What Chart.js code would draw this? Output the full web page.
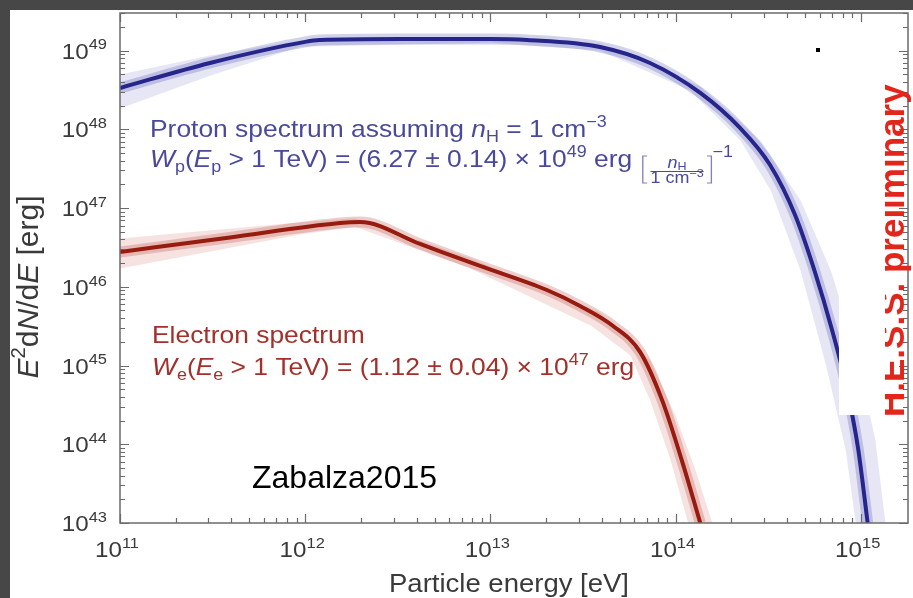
<!doctype html>
<html>

<head>
	<title>Particle spectra</title>
	<script src="https://cdn.jsdelivr.net/npm/chart.js@4"></script>
	<style>
		body { margin: 0; background: #474747; }
		canvas { display: block; }
	</style>
</head>

<body>
	<canvas id="canvas" width="913" height="598"></canvas>
	<script>
		// best-fit proton spectrum (energy in eV, E^2 dN/dE in erg)
		const protonE = [1e11, 3.06e11, 1e12, 1.2e12, 3.25e12, 1e13, 1.58e13, 3.91e13, 7.28e13, 1.36e14, 2.23e14, 3.24e14, 4.42e14, 5.66e14, 7.0e14, 8.33e14, 9.67e14, 1.09e15];
		const protonFlux = [3.35e48, 6.96e48, 1.29e49, 1.36e49, 1.4e49, 1.4e49, 1.36e49, 1.11e49, 6.96e48, 2.9e48, 1.04e48, 3.52e47, 8.17e46, 1.54e46, 2.83e45, 5.66e44, 8.97e43, 1e43];
		// spread of the proton posterior samples
		const protonUpperE = [1e11, 3.06e11, 9.4e11, 1e13, 3.9e13, 1.36e14, 2.88e14, 4.74e14, 6.9e14, 9.4e14, 1.2e15, 1.36e15];
		const protonUpper = [4.95e48, 8.65e48, 1.34e49, 1.46e49, 1.23e49, 3.5e48, 7.2e47, 1.25e47, 1.6e46, 1.56e45, 1.12e44, 1e43];
		const protonLowerE = [1e11, 3.06e11, 9.4e11, 1e13, 3.9e13, 1.2e14, 2.24e14, 3.27e14, 4.74e14, 6.5e14, 8.3e14, 9.4e14];
		const protonLower = [1.84e48, 4.8e48, 1.12e49, 1.26e49, 1.0e49, 3.1e48, 7.2e47, 1.67e47, 1.6e46, 1.0e45, 8.4e43, 1e43];

		// best-fit electron spectrum
		const electronE = [1e11, 3.93e11, 1.54e12, 1.98e12, 4.17e12, 8.79e12, 2.02e13, 3.05e13, 4.6e13, 6.43e13, 8.45e13, 1.08e14, 1.36e14];
		const electronFlux = [2.77e46, 4.23e46, 6.46e46, 6.65e46, 3.5e46, 1.84e46, 9.1e45, 5.71e45, 3.18e45, 1.49e45, 3.66e44, 6.3e43, 1e43];
		const electronUpperE = [1e11, 9.4e11, 1.86e12, 7.8e12, 3.9e13, 7.3e13, 1e14, 1.28e14, 1.58e14];
		const electronUpper = [4.1e46, 6.6e46, 7.4e46, 2.3e46, 4.7e45, 1.16e45, 2.3e44, 4.7e43, 1e43];
		const electronLowerE = [1e11, 9.4e11, 1.86e12, 7.8e12, 3.5e13, 5.7e13, 7.3e13, 9.4e13, 1.17e14];
		const electronLower = [1.71e46, 4.6e46, 5.8e46, 1.71e46, 3.2e45, 1.35e45, 3.6e44, 6.3e43, 1e43];

		// axis decades and tick label exponents
		const xDecades = [11, 12, 13, 14, 15];
		const yDecades = [43, 44, 45, 46, 47, 48, 49];

		const FONT = '"Liberation Sans", Arial, Helvetica, sans-serif';
		const SX = 1.1; // the figure text is a bit wide

		const pts = (xs, ys) => xs.map((x, i) => ({x: x, y: ys[i]}));
		// closed outline: upper edge out, lower edge back
		const band = (ux, uy, lx, ly) => pts(ux, uy).concat(pts(lx, ly).reverse());

		// draw a run list: [text, kind] with kind i=italic, b=subscript, p=superscript, or 'frac'
		function drawRuns(ctx, x, y, runs, size, color, opts) {
			opts = opts || {};
			const sx = opts.sx === undefined ? SX : opts.sx;
			const measure = (dry) => {
				let cx = 0;
				for (const [t, k] of runs) {
					if (k === 'frac') { cx += drawFrac(ctx, cx, size, color, dry); continue; }
					let fs = size, dy = 0;
					if (k.includes('b')) { fs = size * 0.68; dy = size * 0.22; }
					if (k.includes('p')) { fs = size * 0.68; dy = -size * 0.42; }
					ctx.font = (k.includes('i') ? 'italic ' : '') + fs + 'px ' + FONT;
					if (!dry) ctx.fillText(t, cx, dy);
					cx += ctx.measureText(t).width;
				}
				return cx;
			};
			ctx.save();
			ctx.textAlign = 'left';
			ctx.textBaseline = 'alphabetic';
			ctx.fillStyle = color;
			ctx.translate(x, y);
			if (opts.rotate) ctx.rotate(opts.rotate);
			ctx.scale(sx, 1);
			const w = measure(true);
			if (opts.align === 'center') ctx.translate(-w / 2, 0);
			if (opts.align === 'right') ctx.translate(-w, 0);
			measure(false);
			ctx.restore();
			return w * sx;
		}

		// [ n_H / 1 cm^-3 ]
		function drawFrac(ctx, x0, size, color, dry) {
			const s = size * 0.68;
			ctx.font = s + 'px ' + FONT;
			const w1 = ctx.measureText('1 cm').width;
			ctx.font = (s * 0.7) + 'px ' + FONT;
			const w2 = ctx.measureText('\u22123').width;
			const dw = w1 + w2;
			ctx.font = 'italic ' + s + 'px ' + FONT;
			const wn = ctx.measureText('n').width;
			ctx.font = (s * 0.7) + 'px ' + FONT;
			const wh = ctx.measureText('H').width;
			const fx = x0 + 10;
			if (!dry) {
				ctx.save();
				ctx.strokeStyle = color;
				ctx.globalAlpha = 0.7;
				ctx.lineWidth = 1.2;
				const br = (bx, d) => {
					ctx.beginPath();
					ctx.moveTo(bx + d, -11);
					ctx.lineTo(bx, -11);
					ctx.lineTo(bx, 16);
					ctx.lineTo(bx + d, 16);
					ctx.stroke();
				};
				br(x0 + 3, 4);
				br(fx + dw + 7, -4);
				ctx.restore();
				const nx = fx + (dw - wn - wh) / 2;
				ctx.font = 'italic ' + s + 'px ' + FONT;
				ctx.fillText('n', nx, 1);
				ctx.font = (s * 0.7) + 'px ' + FONT;
				ctx.fillText('H', nx + wn, 3);
				ctx.fillRect(fx, 4, dw, 1);
				ctx.font = s + 'px ' + FONT;
				ctx.fillText('1 cm', fx, 16);
				ctx.font = (s * 0.7) + 'px ' + FONT;
				ctx.fillText('\u22123', fx + w1, 10);
			}
			return dw + 18;
		}

		const figure = {
			id: 'figure',
			beforeDraw(chart) {
				const ctx = chart.ctx;
				ctx.save();
				ctx.fillStyle = '#474747';
				ctx.fillRect(0, 0, chart.width, chart.height);
				ctx.fillStyle = '#ffffff';
				ctx.fillRect(10, 10, chart.width - 10, chart.height - 10);
				ctx.restore();
			},
			afterDatasetsDraw(chart) {
				const ctx = chart.ctx;
				const a = chart.chartArea;
				const xs = chart.scales.x, ys = chart.scales.y;
				ctx.save();
				ctx.strokeStyle = '#6b6b6b';
				ctx.lineWidth = 1.5;
				ctx.strokeRect(a.left, a.top, a.right - a.left, a.bottom - a.top);
				ctx.lineWidth = 1.2;
				ctx.beginPath();
				for (const d of xDecades) {
					for (let m = 1; m <= 9; m++) {
						const v = m * Math.pow(10, d);
						if (v < xs.min || v > xs.max) continue;
						const px = Math.round(xs.getPixelForValue(v)) + 0.5;
						const len = m === 1 ? 9 : 5;
						ctx.moveTo(px, a.bottom); ctx.lineTo(px, a.bottom - len);
						ctx.moveTo(px, a.top); ctx.lineTo(px, a.top + len);
					}
				}
				for (const d of yDecades) {
					for (let m = 1; m <= 9; m++) {
						const v = m * Math.pow(10, d);
						if (v < ys.min || v > ys.max) continue;
						const py = Math.round(ys.getPixelForValue(v)) + 0.5;
						const len = m === 1 ? 9 : 5;
						ctx.moveTo(a.left, py); ctx.lineTo(a.left + len, py);
						ctx.moveTo(a.right, py); ctx.lineTo(a.right - len, py);
					}
				}
				ctx.stroke();
				ctx.restore();

				const tc = '#3a3a3a';
				for (const d of xDecades) {
					const px = xs.getPixelForValue(Math.pow(10, d));
					drawRuns(ctx, px - 3, a.bottom + 34, [['10', ''], [String(d), 'p']], 22, tc, {align: 'center'});
				}
				for (const d of yDecades) {
					const py = ys.getPixelForValue(Math.pow(10, d));
					drawRuns(ctx, a.left - 13, py + 8, [['10', ''], [String(d), 'p']], 22, tc, {align: 'right'});
				}
				drawRuns(ctx, 509, 592, [['Particle energy [eV]', '']], 25, tc, {align: 'center'});
				drawRuns(ctx, 38, 287, [['E', 'i'], ['2', 'p'], ['d', ''], ['N', 'i'], ['/d', ''], ['E', 'i'], [' [erg]', '']], 30, tc,
					{align: 'center', rotate: -Math.PI / 2, sx: 1});
			},
			afterDraw(chart) {
				const ctx = chart.ctx;
				const blue = '#4a4a9c', red = '#a3302a';
				drawRuns(ctx, 150, 137, [['Proton spectrum assuming ', ''], ['n', 'i'], ['H', 'b'], [' = 1 cm', ''], ['\u22123', 'p']], 24, blue);
				drawRuns(ctx, 150, 167, [['W', 'i'], ['p', 'b'], ['(', ''], ['E', 'i'], ['p', 'b'],
					[' > 1 TeV) = (6.27 \u00b1 0.14) \u00d7 10', ''], ['49', 'p'], [' erg ', ''], ['', 'frac'], ['\u22121', 'p']], 24, blue);
				drawRuns(ctx, 152, 343, [['Electron spectrum', '']], 24, red);
				drawRuns(ctx, 152, 375, [['W', 'i'], ['e', 'b'], ['(', ''], ['E', 'i'], ['e', 'b'],
					[' > 1 TeV) = (1.12 \u00b1 0.04) \u00d7 10', ''], ['47', 'p'], [' erg', '']], 24, red);

				ctx.save();
				ctx.fillStyle = '#000000';
				ctx.font = '32px ' + FONT;
				ctx.fillText('Zabalza2015', 252, 488);
				ctx.fillRect(816, 48, 4, 4);

				// rotated watermark, partly hidden behind a white patch
				ctx.translate(904, 417);
				ctx.rotate(-Math.PI / 2);
				ctx.fillStyle = '#e3261b';
				ctx.font = 'bold 35px ' + FONT;
				ctx.fillText('H.E.S.S. preliminary', 0, 0);
				ctx.setTransform(1, 0, 0, 1, 0, 0);
				ctx.fillStyle = '#ffffff';
				ctx.fillRect(839, 25, 46, 390);
				ctx.restore();
			}
		};

		const config = {
			type: 'line',
			data: {
				datasets: [{
					label: 'Proton spectrum',
					data: pts(protonE, protonFlux),
					borderColor: '#25258c',
					borderWidth: 4,
					cubicInterpolationMode: 'monotone',
					pointRadius: 0,
					fill: false,
					order: 0
				}, {
					label: 'Electron spectrum',
					data: pts(electronE, electronFlux),
					borderColor: '#981b10',
					borderWidth: 4,
					cubicInterpolationMode: 'monotone',
					pointRadius: 0,
					fill: false,
					order: 0
				}, {
					label: 'proton halo',
					data: pts(protonE, protonFlux),
					borderColor: 'rgba(50, 50, 160, 0.22)',
					borderWidth: 11,
					cubicInterpolationMode: 'monotone',
					pointRadius: 0,
					fill: false,
					order: 1
				}, {
					label: 'electron halo',
					data: pts(electronE, electronFlux),
					borderColor: 'rgba(170, 35, 25, 0.22)',
					borderWidth: 11,
					cubicInterpolationMode: 'monotone',
					pointRadius: 0,
					fill: false,
					order: 1
				}, {
					label: 'proton band',
					data: band(protonUpperE, protonUpper, protonLowerE, protonLower),
					borderWidth: 0,
					borderColor: 'rgba(0, 0, 0, 0)',
					backgroundColor: 'rgba(80, 80, 185, 0.14)',
					tension: 0,
					pointRadius: 0,
					fill: 'shape',
					order: 2
				}, {
					label: 'electron band',
					data: band(electronUpperE, electronUpper, electronLowerE, electronLower),
					borderWidth: 0,
					borderColor: 'rgba(0, 0, 0, 0)',
					backgroundColor: 'rgba(190, 50, 40, 0.14)',
					tension: 0,
					pointRadius: 0,
					fill: 'shape',
					order: 2
				}]
			},
			options: {
				responsive: false,
				animation: false,
				clip: 0,
				layout: {
					padding: {left: 120, right: 5, top: 13, bottom: 75}
				},
				scales: {
					x: {type: 'logarithmic', min: 1e11, max: 1.8e15, display: false},
					y: {type: 'logarithmic', min: 1e43, max: 3e49, display: false}
				},
				plugins: {
					legend: {display: false},
					tooltip: {enabled: false}
				}
			},
			plugins: [figure]
		};

		window.onload = function() {
			const ctx = document.getElementById('canvas').getContext('2d');
			window.myChart = new Chart(ctx, config);
		};
	</script>
</body>

</html>
